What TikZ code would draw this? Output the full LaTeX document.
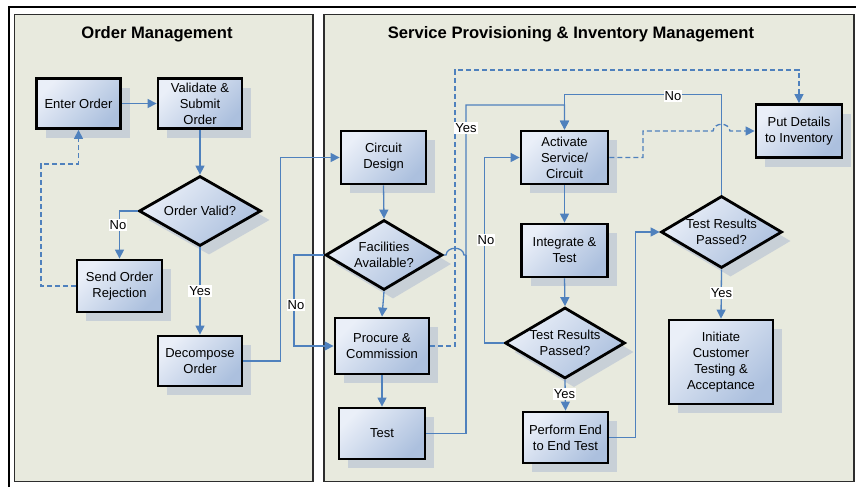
\documentclass[tikz,border=0pt]{standalone}
\usepackage{fontspec}
\setmainfont{Liberation Sans}
\usetikzlibrary{arrows.meta,shapes.geometric,shadows}

\definecolor{flow}{RGB}{79,129,189}
\definecolor{boxlight}{RGB}{234,239,248}
\definecolor{boxdark}{RGB}{172,192,222}
\definecolor{boxshadow}{RGB}{200,208,215}
\definecolor{lanefill}{RGB}{232,234,222}
\definecolor{laneedge}{RGB}{45,45,45}

\tikzset{
  lane/.style={fill=lanefill, draw=laneedge, line width=1.8pt},
  lanetitle/.style={font=\fontsize{16.6}{18}\selectfont\bfseries, inner sep=0pt},
  boxbase/.style={draw=black, line width=2.8pt,
    top color=boxlight, bottom color=boxdark, shading angle=45,
    drop shadow={shadow xshift=9pt, shadow yshift=-9pt, fill=boxshadow, opacity=1}},
  proc/.style={boxbase, rectangle, align=center, inner sep=1pt,
    font=\fontsize{13}{16}\selectfont},
  decide/.style={boxbase, diamond, inner sep=0pt},
  dtext/.style={align=center, inner sep=0pt, font=\fontsize{13}{16}\selectfont},
  lbl/.style={fill=white, inner sep=1pt, font=\fontsize{13}{15}\selectfont},
  conn/.style={draw=flow, line width=1.3pt},
  tip/.style={-{Triangle[length=9pt,width=9pt]}},
  dconn/.style={conn, dash pattern=on 5pt off 3pt},
}

\begin{document}
\begin{tikzpicture}[x=1pt,y=-1pt]
\useasboundingbox (0,0) rectangle (856,487);
\fill[white] (0,0) rectangle (856,487);

% outer frame, top and left edges
\draw[line width=2.6pt] (9,487) -- (9,7) -- (856,7);

% swim lanes
\draw[lane] (14.5,14.5) rectangle (313,481.5);
\draw[lane] (324,14.5) rectangle (854,481.5);
\node[lanetitle] (t1) at (157,34) {Order Management};
\node[lanetitle] (t2) at (571,34) {Service Provisioning \& Inventory Management};

% order management
\node[proc, minimum width=84pt, minimum height=50pt] (eo) at (78.5,103.5) {Enter Order};
\node[proc, minimum width=84pt, minimum height=50pt] (vs) at (200,103.5) {Validate \&\\Submit\\Order};
\node[decide, minimum width=122pt, minimum height=70pt] (ov) at (200,211) {};
\node[dtext] (ovt) at (ov) {Order Valid?};
\node[proc, minimum width=85pt, minimum height=52pt] (sor) at (119.5,286) {Send Order\\Rejection};
\node[proc, minimum width=84pt, minimum height=50pt] (do) at (200,361) {Decompose\\Order};

% provisioning
\node[proc, minimum width=85pt, minimum height=53pt] (cd) at (383.5,157.5) {Circuit\\Design};
\node[decide, minimum width=117pt, minimum height=70pt] (fa) at (384,255) {};
\node[dtext] (fat) at (fa) {Facilities\\Available?};
\node[proc, minimum width=94pt, minimum height=56pt] (pc) at (382,346) {Procure \&\\Commission};
\node[proc, minimum width=86pt, minimum height=51pt] (ts) at (382,433.5) {Test};

\node[proc, minimum width=87pt, minimum height=53pt] (as) at (564.5,157.5) {Activate\\Service/\\Circuit};
\node[proc, minimum width=86pt, minimum height=53pt] (it) at (564.5,250.5) {Integrate \&\\Test};
\node[decide, minimum width=120pt, minimum height=71pt] (tra) at (565,343) {};
\node[dtext] (trat) at (tra) {Test Results\\Passed?};
\node[proc, minimum width=85pt, minimum height=51pt] (pe) at (565.5,437.5) {Perform End\\to End Test};

\node[decide, minimum width=121pt, minimum height=72pt] (trb) at (721.5,232) {};
\node[dtext] (trbt) at (trb) {Test Results\\Passed?};
\node[proc, minimum width=86pt, minimum height=53pt] (pd) at (799,131) {Put Details\\to Inventory};
\node[proc, minimum width=104pt, minimum height=84pt] (ic) at (721,362) {Initiate\\Customer\\Testing \&\\Acceptance};

% connectors: order management
\draw[conn,tip] (eo.east) -- (vs.west);
\draw[conn,tip] (vs.south) -- (ov.north);
\draw[conn,tip] (ov.west) -| (sor.north);
\draw[dconn,tip] (sor.west) -| (41,164) -| (eo.south);
\draw[conn,tip] (ov.south) -- (do.north);
\draw[conn,tip] (do.east) -- ++(37,0) |- (cd.west);

% connectors: provisioning
\draw[conn,tip] (cd.south) -- (fa.north);
\draw[conn,tip] (fa.west) -- ++(-30,0) |- (pc.west);
\draw[conn,tip] (fa.south) -- (pc.north);
\draw[conn,tip] (pc.south) -- (ts.north);
\draw[dconn,tip] (pc.east) -| (455,70) -| (pd.north);
\draw[conn,tip] (fa.east) -- (446,255) .. controls (447,246) and (463,246) .. (464,255)
  -- (466,255) -- (466,105) -| (as.north);
\draw[conn] (ts.east) -| (466,255);
\draw[conn,tip] (as.south) -- (it.north);
\draw[conn,tip] (it.south) -- (tra.north);
\draw[conn,tip] (tra.west) -- ++(-19,0) |- (as.west);
\draw[conn,tip] (tra.south) -- (pe.north);
\draw[conn,tip] (pe.east) -- ++(26,0) |- (trb.west);
\draw[conn,tip] (trb.north) -- ++(0,-100) -| (as.north);
\draw[dconn,tip] (as.east) -| (643,131) -- (713,131) .. controls (714,122) and (729,122) .. (730,131) -- (pd.west);
\draw[conn,tip] (trb.south) -- (ic.north);

% branch labels
\node[lbl] (l1) at (118,225) {No};
\node[lbl] (l2) at (200,291) {Yes};
\node[lbl] (l3) at (296,305) {No};
\node[lbl] (l4) at (466,128) {Yes};
\node[lbl] (l5) at (486,240) {No};
\node[lbl] (l6) at (564.5,394) {Yes};
\node[lbl] (l7) at (673,96) {No};
\node[lbl] (l8) at (721.5,293) {Yes};
\end{tikzpicture}
\end{document}
